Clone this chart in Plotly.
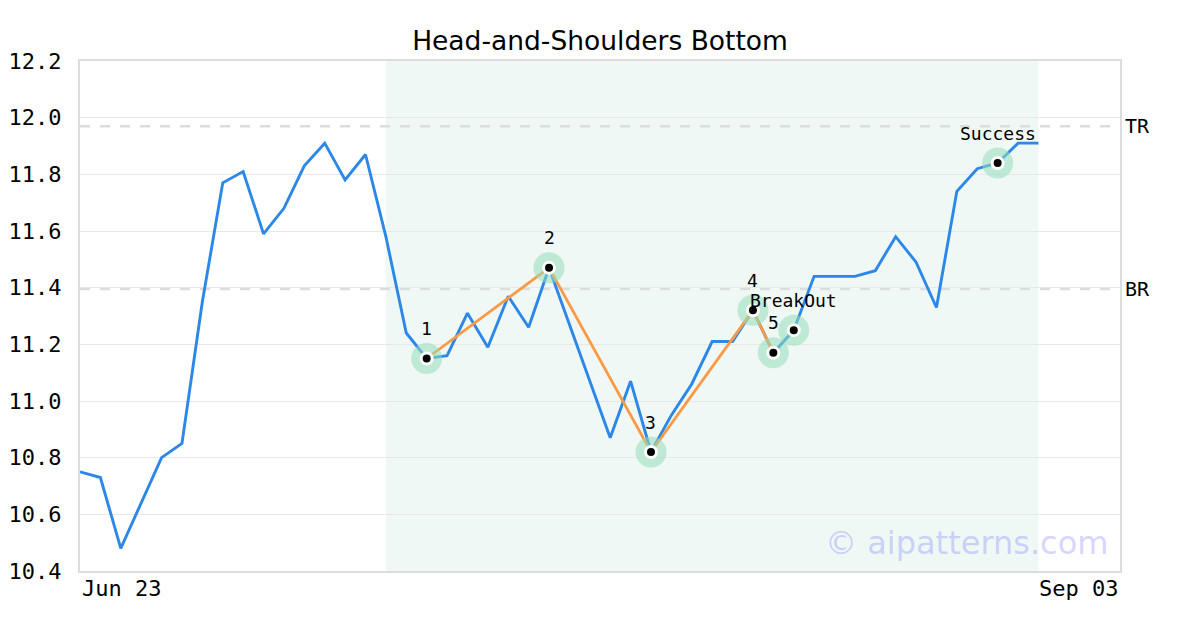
import plotly.graph_objects as go

# ---- data ----
prices = [10.75, 10.73, 10.48, 10.64, 10.80, 10.85, 11.35, 11.77, 11.81, 11.59,
          11.68, 11.83, 11.91, 11.78, 11.87, 11.58, 11.24, 11.15, 11.16, 11.31,
          11.19, 11.37, 11.26, 11.47, 11.27, 11.07, 10.87, 11.07, 10.82, 10.95,
          11.06, 11.21, 11.21, 11.32, 11.17, 11.25, 11.44, 11.44, 11.44, 11.46,
          11.58, 11.49, 11.33, 11.74, 11.82, 11.84, 11.91, 11.91]
x_idx = list(range(len(prices)))

pattern_idx = [17, 23, 28, 33, 34]          # points 1..5
marker_idx = [17, 23, 28, 33, 34, 35, 45]   # highlighted points
marker_labels = ["1", "2", "3", "4", "5", "BreakOut", "Success"]

x_tick_labels = ["Jun 23", "Sep 03"]
x_tick_pos = [0, 51]
x_range = [0, 51]

zone_start, zone_end = 15, 47
TR_level = 11.97
BR_level = 11.395

title_text = "Head-and-Shoulders Bottom"
watermark = "© aipatterns.com"

MONO = "DejaVu Sans Mono"
SANS = "DejaVu Sans"

fig = go.Figure()

fig.add_trace(go.Scatter(x=x_idx, y=prices, mode="lines",
                         line=dict(color="#2b87e8", width=2.9),
                         hoverinfo="skip"))
fig.add_trace(go.Scatter(x=pattern_idx, y=[prices[i] for i in pattern_idx],
                         mode="lines", line=dict(color="#fb9a45", width=2.8),
                         hoverinfo="skip"))
mx = marker_idx
my = [prices[i] for i in marker_idx]
fig.add_trace(go.Scatter(x=mx, y=my, mode="markers",
                         marker=dict(size=31, color="rgba(150,220,185,0.55)", line=dict(width=0)),
                         hoverinfo="skip"))
fig.add_trace(go.Scatter(x=mx, y=my, mode="markers",
                         marker=dict(size=14, color="white", line=dict(width=0)),
                         hoverinfo="skip"))
fig.add_trace(go.Scatter(x=mx, y=my, mode="markers",
                         marker=dict(size=8, color="black", line=dict(width=0)),
                         hoverinfo="skip"))

# shaded pattern zone
fig.add_shape(type="rect", xref="x", yref="paper", x0=zone_start, x1=zone_end,
              y0=0, y1=1, fillcolor="#eff8f4", line=dict(width=0), layer="below")

# TR / BR dashed lines
for lvl, name in [(TR_level, "TR"), (BR_level, "BR")]:
    fig.add_shape(type="line", xref="paper", yref="y", x0=0, x1=1, y0=lvl, y1=lvl,
                  line=dict(color="#dddddd", width=2.5, dash="10px,10px"), layer="below")
    fig.add_annotation(xref="paper", yref="y", x=1, y=lvl, text=name, showarrow=False,
                       xanchor="left", yanchor="middle", xshift=3,
                       font=dict(family=MONO, size=20, color="black"))

# point labels
for i, lab in zip(marker_idx, marker_labels):
    fig.add_annotation(x=i, y=prices[i], text=lab, showarrow=False, yshift=30,
                       xanchor="center", yanchor="middle",
                       font=dict(family=MONO, size=18, color="black"))

# x tick labels
for pos, lab, anc in zip(x_tick_pos, x_tick_labels, ["left", "right"]):
    fig.add_annotation(x=pos, xref="x", y=0, yref="paper", text=lab, showarrow=False,
                       xanchor=anc, yanchor="top", yshift=-3,
                       font=dict(family=MONO, size=22, color="black"))

# watermark
fig.add_annotation(xref="paper", yref="paper", x=0.99, y=0.055, text=watermark,
                   showarrow=False, xanchor="right", yanchor="middle",
                   font=dict(family=SANS, size=32, color="rgba(110,110,255,0.3)"))

# page body has an 8px offset; margins compensate so the plot sits at 80..1120 x 60..570
fig.update_layout(
    width=1200, height=630,
    margin=dict(l=72, r=88, t=53, b=67),
    paper_bgcolor="white", plot_bgcolor="white",
    showlegend=False,
    title=dict(text=title_text, x=(600 - 8) / 1200, xanchor="center",
               y=1 - 33 / 630, yanchor="middle",
               font=dict(family=SANS, size=26.5, color="black")),
    xaxis=dict(range=x_range, showgrid=False, zeroline=False, showticklabels=False,
               showline=True, mirror=True, linecolor="#dddddd", linewidth=2,
               automargin=False),
    yaxis=dict(range=[10.4, 12.2], dtick=0.2, tickformat=".1f", showgrid=True,
               gridcolor="#e8e8e8", gridwidth=1, zeroline=False,
               showline=True, mirror=True, linecolor="#dddddd", linewidth=2,
               ticklabelstandoff=12, automargin=False,
               tickfont=dict(family=MONO, size=22, color="black")),
)

fig.write_html("out.html")
